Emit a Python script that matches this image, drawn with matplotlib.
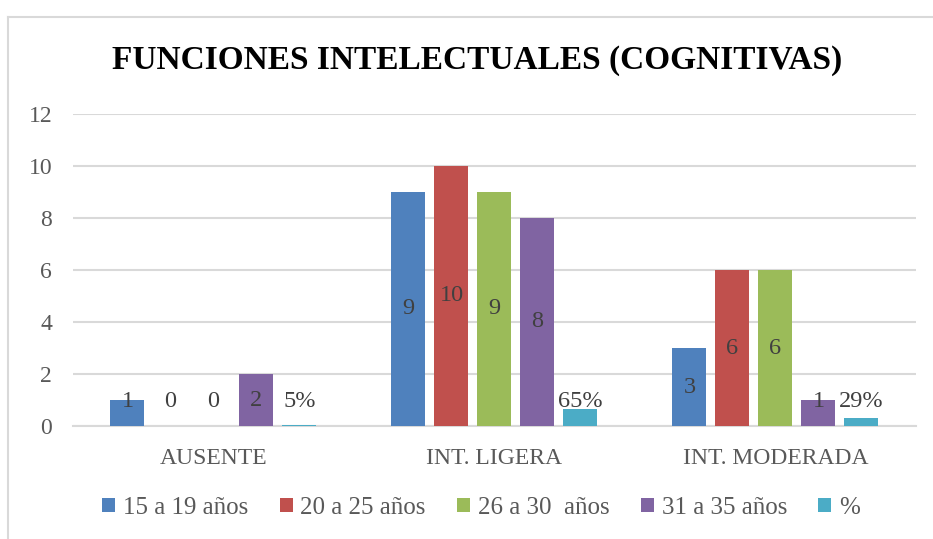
import matplotlib
matplotlib.use('Agg')
import matplotlib.pyplot as plt
import numpy as np
from matplotlib.lines import Line2D

categories = ['AUSENTE', 'INT. LIGERA', 'INT. MODERADA']
series_names = ['15 a 19 años', '20 a 25 años', '26 a 30  años', '31 a 35 años', '%']
values = [
    [1, 9, 3],
    [0, 10, 6],
    [0, 9, 6],
    [2, 8, 1],
    [0.05, 0.65, 0.29],
]
labels = [
    ['1', '9', '3'],
    ['0', '10', '6'],
    ['0', '9', '6'],
    ['2', '8', '1'],
    ['5%', '65%', '29%'],
]
colors = ['#4F81BD', '#C0504D', '#9BBB59', '#8064A2', '#4BACC6']
yticks = [0, 2, 4, 6, 8, 10, 12]

plt.rcParams['font.family'] = ['Liberation Serif', 'DejaVu Serif']

fig = plt.figure(figsize=(9.33, 5.39), dpi=100)
ax = fig.add_axes([0.0782, 0.2096, 0.9035, 0.579])

# chart area border (left and top only visible)
fig.add_artist(Line2D([8 / 933, 8 / 933], [0, 1 - 16.5 / 539], transform=fig.transFigure,
                      color='#d9d9d9', lw=1.5))
fig.add_artist(Line2D([8 / 933, 1], [1 - 16.5 / 539, 1 - 16.5 / 539], transform=fig.transFigure,
                      color='#d9d9d9', lw=1.5))

x = np.arange(len(categories))
step = 0.153
width = 0.121
for i, (vals, labs, c) in enumerate(zip(values, labels, colors)):
    pos = x + (i - 2) * step
    ax.bar(pos, vals, width, color=c, label=series_names[i], zorder=3)
    for px, v, lab in zip(pos, vals, labs):
        ax.text(px, max(v / 2, 0.93), lab, ha='center', va='center',
                fontsize=17.5, color='#404040', zorder=4)

ax.set_xlim(-0.5, 2.5)
ax.set_ylim(0, 12)
ax.set_yticks(yticks)
ax.set_xticks(x)
ax.set_xticklabels(categories)
ax.tick_params(axis='both', length=0, labelsize=17, labelcolor='#595959')
ax.tick_params(axis='y', pad=15)
ax.tick_params(axis='x', pad=16)
ax.yaxis.grid(True, color='#d9d9d9', lw=1.5, zorder=0)
for s in ['top', 'right', 'left']:
    ax.spines[s].set_visible(False)
ax.spines['bottom'].set_color('#d9d9d9')
ax.spines['bottom'].set_linewidth(1.5)

fig.text(0.511, 1 - 61 / 539, 'FUNCIONES INTELECTUALES (COGNITIVAS)', ha='center', va='center',
         fontsize=24, fontweight='bold', color='black')

handles, lbls = ax.get_legend_handles_labels()
leg = fig.legend(handles, lbls, loc='center', bbox_to_anchor=(481 / 933, 1 - 508 / 539), ncol=5,
                 frameon=False, fontsize=18, handlelength=0.52, handleheight=0.52,
                 handletextpad=0.32, columnspacing=1.24)
for t in leg.get_texts():
    t.set_color('#595959')

plt.savefig('out.png', dpi=100)
plt.close()
